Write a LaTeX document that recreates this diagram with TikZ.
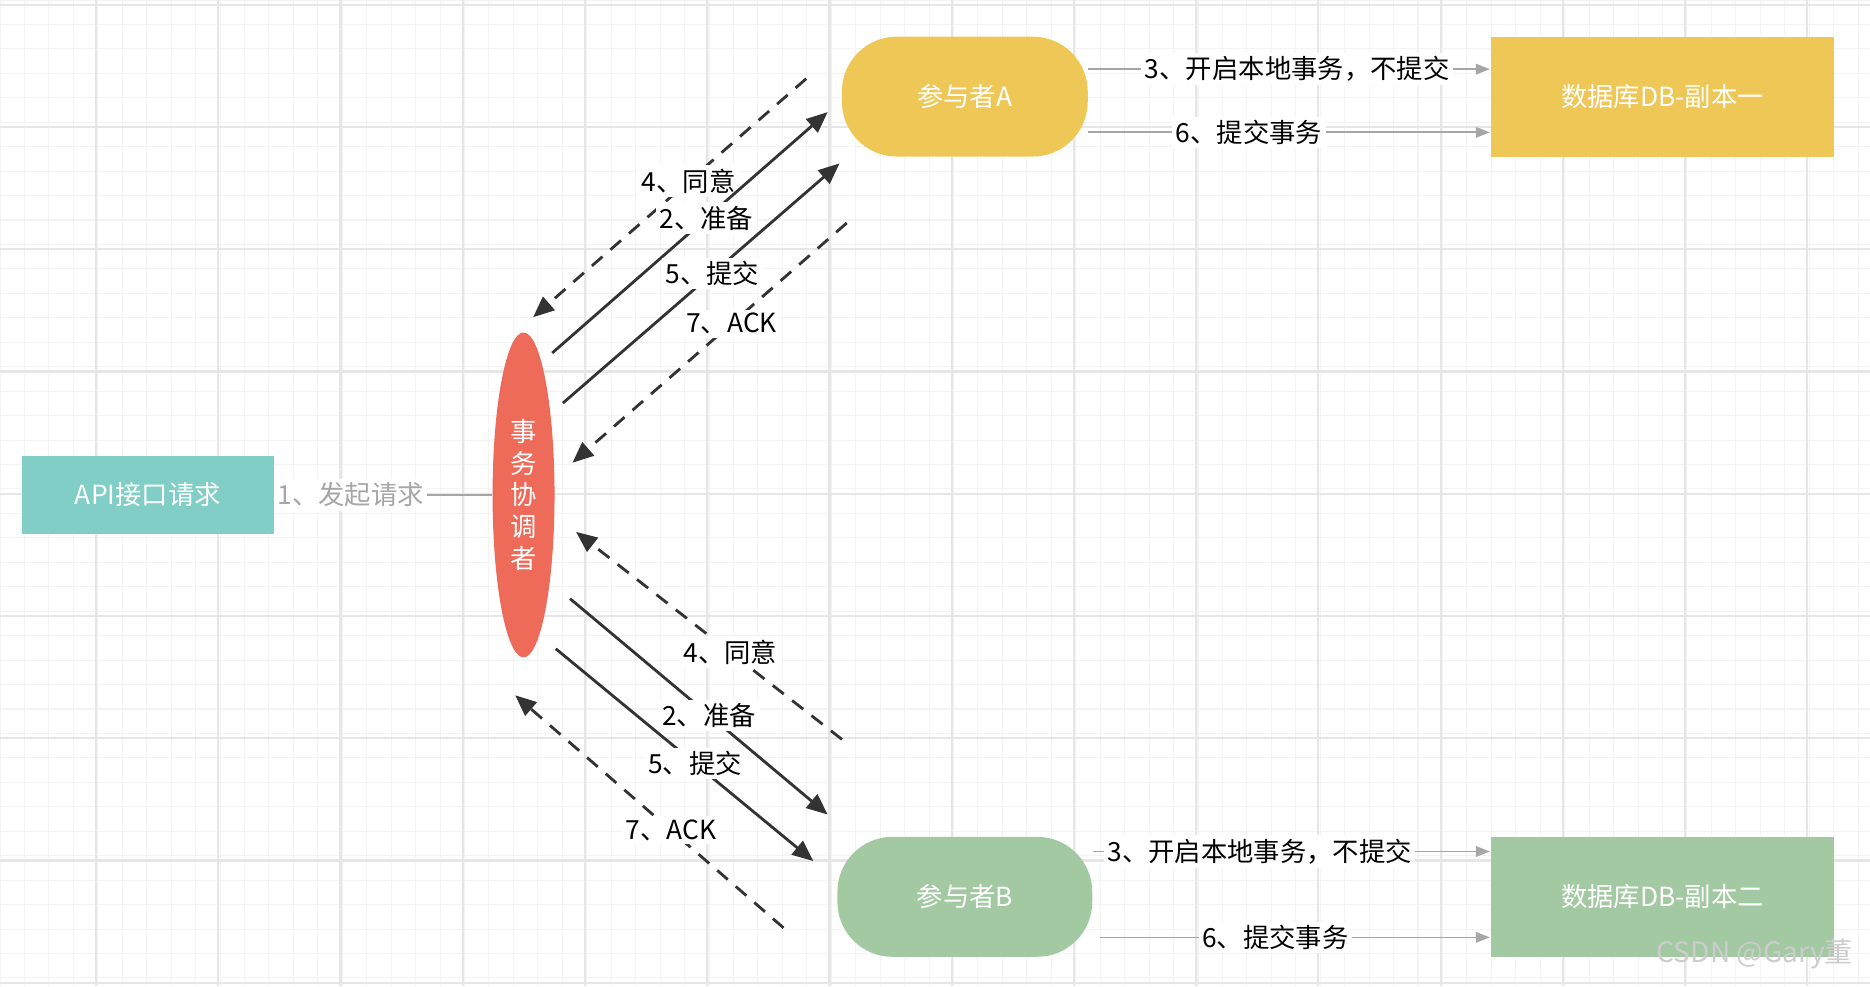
\documentclass[tikz,border=0pt]{standalone}
\usepackage{fontspec}
\setmainfont{Noto Sans CJK SC}
\usetikzlibrary{arrows.meta,shapes.geometric}
\definecolor{apicol}{HTML}{80CEC6}
\definecolor{coordcol}{HTML}{EE6A59}
\definecolor{yelcol}{HTML}{EEC757}
\definecolor{grncol}{HTML}{A3C9A3}
\definecolor{gridcol}{HTML}{E6E6E6}
\tikzset{
  box/.style={draw=none, text=white, font=\fontsize{7.5}{9}\selectfont, inner sep=0pt},
  lbl/.style={fill=white, font=\fontsize{7.5}{9}\selectfont, inner sep=1pt},
  grey/.style={draw=gray!70, line width=0.5pt, -{Triangle[length=4pt,width=3pt]}},
  msg/.style={draw=black!80, line width=0.8pt, -{Triangle[length=6pt,width=5pt]}},
  ack/.style={msg, dashed, dash pattern=on 4pt off 3pt}
}
\begin{document}
\begin{tikzpicture}[x=0.011926cm,y=-0.011926cm]
\useasboundingbox (0,0) rectangle (1568,827);
% grid
\foreach \i in {0,...,77} \draw[gridcol!50, line width=0.3pt] (\i*20.5,0) -- (\i*20.5,827);
\foreach \j in {0,...,41} \draw[gridcol!50, line width=0.3pt] (0,\j*20.5) -- (1568,\j*20.5);
\foreach \i in {0,...,15} \draw[gridcol, line width=0.6pt] (\i*102.5-22,0) -- (\i*102.5-22,827);
\foreach \j in {0,...,8} \draw[gridcol, line width=0.6pt] (0,\j*102.5+4) -- (1568,\j*102.5+4);

% nodes
\node[box, fill=apicol, minimum width=2.52cm, minimum height=0.78cm] (api) at (124,415) {API接口请求};
\node[box, fill=coordcol, ellipse, minimum width=0.62cm, minimum height=3.25cm, align=center] (tc) at (439,415) {事\\务\\协\\调\\者};
\node[box, fill=yelcol, rounded corners=0.55cm, minimum width=2.46cm, minimum height=1.2cm] (pa) at (809,81) {参与者A};
\node[box, fill=yelcol, minimum width=3.44cm, minimum height=1.2cm] (dba) at (1394,81) {数据库DB-副本一};
\node[box, fill=grncol, rounded corners=0.55cm, minimum width=2.55cm, minimum height=1.2cm] (pb) at (809,752) {参与者B};
\node[box, fill=grncol, minimum width=3.44cm, minimum height=1.2cm] (dbb) at (1394,752) {数据库DB-副本二};

% request
\draw[gray!70, line width=0.5pt] (api.east) -- (tc.west) node[lbl, pos=0.35] {1、发起请求};

% participant -> database
\draw[grey] (pa.east |- 0,58) -- (dba.west |- 0,58) node[lbl, pos=0.52] {3、开启本地事务，不提交};
\draw[grey] (pa.east |- 0,111) -- (dba.west |- 0,111) node[lbl, pos=0.4] {6、提交事务};
\draw[grey] (pb.east |- 0,714) -- (dbb.west |- 0,714) node[lbl, pos=0.42] {3、开启本地事务，不提交};
\draw[grey] (922,786) -- (dbb.west |- 0,786) node[lbl, pos=0.45] {6、提交事务};

% upper messages
\coordinate (a1s) at (676,66);  \coordinate (a1e) at (447,266);
\coordinate (a2s) at (463,296); \coordinate (a2e) at (694,94);
\coordinate (a3s) at (472,338); \coordinate (a3e) at (704,137);
\coordinate (a4s) at (710,187); \coordinate (a4e) at (480,388);
\draw[ack] (a1s) -- (a1e) node[lbl, pos=0.43] {4、同意};
\draw[msg] (a2s) -- (a2e) node[lbl, pos=0.56] {2、准备};
\draw[msg] (a3s) -- (a3e) node[lbl, pos=0.54] {5、提交};
\draw[ack] (a4s) -- (a4e) node[lbl, pos=0.42] {7、ACK};

% lower messages
\coordinate (b1s) at (706,620); \coordinate (b1e) at (483,446);
\coordinate (b2s) at (478,502); \coordinate (b2e) at (694,683);
\coordinate (b3s) at (466,544); \coordinate (b3e) at (682,722);
\coordinate (b4s) at (657,778); \coordinate (b4e) at (432,583);
\draw[ack] (b1s) -- (b1e) node[lbl, pos=0.42] {4、同意};
\draw[msg] (b2s) -- (b2e) node[lbl, pos=0.54] {2、准备};
\draw[msg] (b3s) -- (b3e) node[lbl, pos=0.54] {5、提交};
\draw[ack] (b4s) -- (b4e) node[lbl, pos=0.42] {7、ACK};

\node[text=gray!40, font=\fontsize{8}{9}\selectfont, anchor=east] (wm) at (1564,800) {CSDN @Gary董};
\end{tikzpicture}
\end{document}
